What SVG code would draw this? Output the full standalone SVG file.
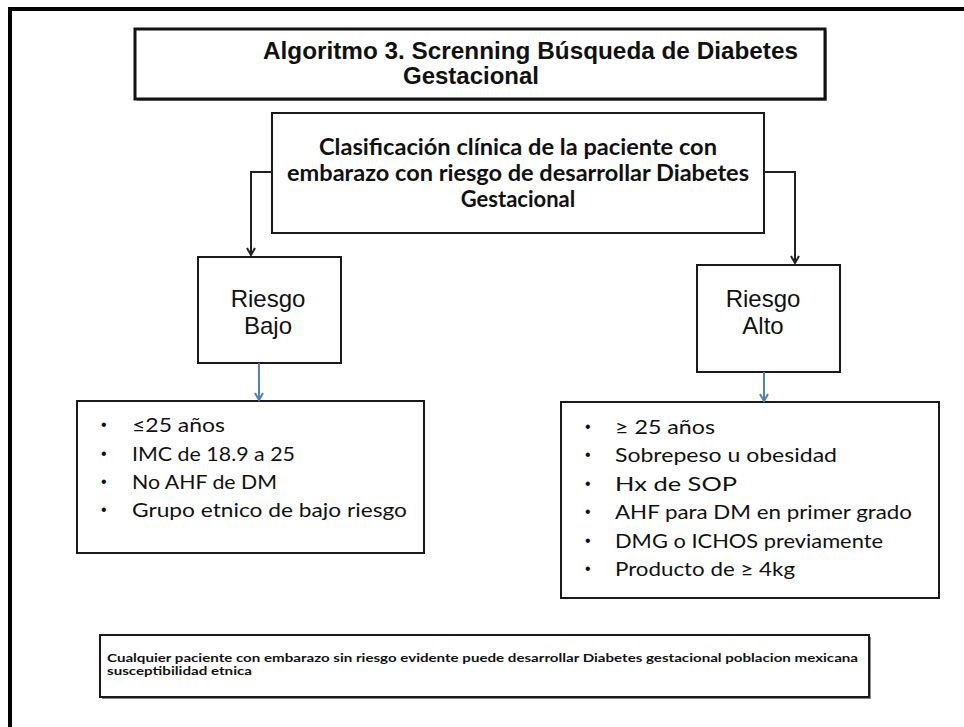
<svg xmlns="http://www.w3.org/2000/svg" width="964" height="727" viewBox="0 0 964 727">
<defs>
<style>
.box{fill:#fff;stroke:#1a1a1a;stroke-width:2}
.title{font-family:"Liberation Sans",Arial,sans-serif;font-weight:bold;font-size:24px;fill:#111}
.cls{font-family:Lato,"Liberation Sans",sans-serif;font-weight:bold;font-size:22px;fill:#111}
.risk{font-family:"Liberation Sans",Arial,sans-serif;font-size:24px;fill:#111}
.item{font-family:Lato,"Liberation Sans",sans-serif;font-size:20px;fill:#111}
.bul{font-family:"Liberation Sans",Arial,sans-serif;font-size:16px;fill:#111}
.note{font-family:Lato,"Liberation Sans",sans-serif;font-weight:bold;font-size:11px;fill:#111}
.blk{stroke:#222;stroke-width:2;fill:none}
.blu{stroke:#4f81bd;stroke-width:2;fill:none}
</style>
<marker id="ab" markerWidth="10" markerHeight="10" refX="8" refY="5" orient="auto" markerUnits="userSpaceOnUse"><path d="M1,1 L8,5 L1,9" fill="none" stroke="#222" stroke-width="2"/></marker>
<marker id="au" markerWidth="10" markerHeight="10" refX="8" refY="5" orient="auto" markerUnits="userSpaceOnUse"><path d="M1,1 L8,5 L1,9" fill="none" stroke="#4f81bd" stroke-width="2"/></marker>
</defs>
<rect width="964" height="727" fill="#fff"/>
<path d="M10,727 V9 H964" fill="none" stroke="#000" stroke-width="4"/>

<g id="title">
<rect x="137" y="31" width="690" height="70" fill="#9a9a9a"/>
<rect x="135" y="29" width="690" height="70" fill="#fff" stroke="#111" stroke-width="3"/>
<text class="title" x="263" y="59" textLength="535" lengthAdjust="spacingAndGlyphs">Algoritmo 3. Screnning Búsqueda de Diabetes</text>
<text class="title" x="471" y="84" text-anchor="middle">Gestacional</text>
</g>

<g id="clasificacion">
<rect class="box" x="272" y="113" width="492" height="120"/>
<text class="cls" x="518" y="155" text-anchor="middle" textLength="398" lengthAdjust="spacingAndGlyphs">Clasificación clínica de la paciente con</text>
<text class="cls" x="518" y="181" text-anchor="middle" textLength="462" lengthAdjust="spacingAndGlyphs">embarazo con riesgo de desarrollar Diabetes</text>
<text class="cls" x="518" y="207" text-anchor="middle">Gestacional</text>
</g>

<g id="riesgo-bajo">
<rect class="box" x="198" y="257" width="143" height="106"/>
<text class="risk" x="268" y="307" text-anchor="middle">Riesgo</text>
<text class="risk" x="268" y="334" text-anchor="middle">Bajo</text>
</g>

<g id="riesgo-alto">
<rect class="box" x="697" y="265" width="143" height="107"/>
<text class="risk" x="763" y="307" text-anchor="middle">Riesgo</text>
<text class="risk" x="763" y="334" text-anchor="middle">Alto</text>
</g>

<g id="bajo-lista">
<rect class="box" x="77" y="401" width="347" height="152"/>
<text class="bul" x="101" y="430">•</text><text class="item" x="132" y="432" textLength="93" lengthAdjust="spacingAndGlyphs">≤25 años</text>
<text class="bul" x="101" y="459">•</text><text class="item" x="132" y="461" textLength="163" lengthAdjust="spacingAndGlyphs">IMC de 18.9 a 25</text>
<text class="bul" x="101" y="487">•</text><text class="item" x="132" y="489" textLength="145" lengthAdjust="spacingAndGlyphs">No AHF de DM</text>
<text class="bul" x="101" y="515">•</text><text class="item" x="132" y="517" textLength="275" lengthAdjust="spacingAndGlyphs">Grupo etnico de bajo riesgo</text>
</g>

<g id="alto-lista">
<rect class="box" x="561" y="402" width="378" height="196"/>
<text class="bul" x="585" y="432">•</text><text class="item" x="615" y="434" textLength="100" lengthAdjust="spacingAndGlyphs">≥ 25 años</text>
<text class="bul" x="585" y="460">•</text><text class="item" x="615" y="462" textLength="222" lengthAdjust="spacingAndGlyphs">Sobrepeso u obesidad</text>
<text class="bul" x="585" y="489">•</text><text class="item" x="615" y="491" textLength="122" lengthAdjust="spacingAndGlyphs">Hx de SOP</text>
<text class="bul" x="585" y="517">•</text><text class="item" x="615" y="519" textLength="297" lengthAdjust="spacingAndGlyphs">AHF para DM en primer grado</text>
<text class="bul" x="585" y="546">•</text><text class="item" x="615" y="548" textLength="268" lengthAdjust="spacingAndGlyphs">DMG o ICHOS previamente</text>
<text class="bul" x="585" y="574">•</text><text class="item" x="615" y="576" textLength="180" lengthAdjust="spacingAndGlyphs">Producto de ≥ 4kg</text>
</g>

<g id="nota">
<rect x="102" y="637" width="769" height="62" fill="#8a8a8a"/>
<rect class="box" x="100" y="635" width="769" height="62"/>
<text class="note" x="107" y="662" textLength="751" lengthAdjust="spacingAndGlyphs">Cualquier  paciente con  embarazo sin riesgo evidente puede desarrollar Diabetes gestacional poblacion  mexicana</text>
<text class="note" x="107" y="675" textLength="145" lengthAdjust="spacingAndGlyphs">susceptibilidad  etnica</text>
</g>

<g id="connectors">
<path class="blk" d="M272,172 H251 V255" marker-end="url(#ab)"/>
<path class="blk" d="M764,172 H795 V263" marker-end="url(#ab)"/>
<path class="blu" d="M259,363 V400" marker-end="url(#au)"/>
<path class="blu" d="M764,372 V401" marker-end="url(#au)"/>
</g>
</svg>
